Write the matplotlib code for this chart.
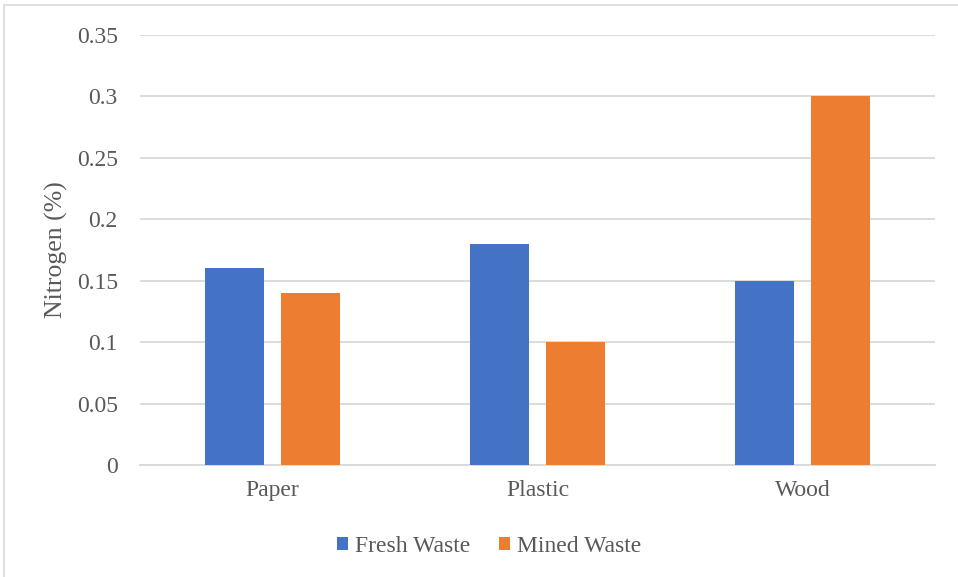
import matplotlib
matplotlib.use("Agg")
import matplotlib.pyplot as plt
from matplotlib.patches import Rectangle
import numpy as np

categories = ["Paper", "Plastic", "Wood"]
fresh_waste = [0.16, 0.18, 0.15]
mined_waste = [0.14, 0.10, 0.30]
y_ticks = [0, 0.05, 0.1, 0.15, 0.2, 0.25, 0.3, 0.35]
y_tick_labels = ["0", "0.05", "0.1", "0.15", "0.2", "0.25", "0.3", "0.35"]

plt.rcParams["font.family"] = ["Liberation Serif", "DejaVu Serif"]
text_color = "#595959"
grid_color = "#d9d9d9"
blue = "#4472c4"
orange = "#ed7d31"
fs = 17

fig = plt.figure(figsize=(9.58, 5.77), dpi=100)
ax = fig.add_axes([140 / 958, 1 - 465 / 577, 795 / 958, 430 / 577])

x = np.arange(len(categories))
width = 0.223
offset = 0.142
ax.bar(x - offset, fresh_waste, width, color=blue, label="Fresh Waste", zorder=3)
ax.bar(x + offset, mined_waste, width, color=orange, label="Mined Waste", zorder=3)

ax.set_xlim(-0.5, 2.5)
ax.set_ylim(0, 0.35)
ax.set_yticks(y_ticks)
ax.set_yticklabels(y_tick_labels)
ax.set_xticks(x)
ax.set_xticklabels(categories)
ax.tick_params(axis="both", length=0, labelsize=fs, colors=text_color)
ax.tick_params(axis="y", pad=16)
ax.tick_params(axis="x", pad=11)
ax.yaxis.grid(True, color=grid_color, linewidth=1.3, zorder=0)
for side in ["top", "right", "left"]:
    ax.spines[side].set_visible(False)
ax.spines["bottom"].set_color(grid_color)
ax.spines["bottom"].set_linewidth(1.3)

ax.set_ylabel("Nitrogen (%)", fontsize=18.5, color=text_color)
ax.yaxis.set_label_coords((68 - 140) / 795, 0.5)

fig.legend(loc="center", bbox_to_anchor=(489 / 958, 1 - 546 / 577), ncol=2,
           frameon=False, fontsize=fs, labelcolor=text_color,
           handlelength=0.47, handleheight=0.47, handletextpad=0.3,
           columnspacing=1.2)

# chart frame
fig.patches.append(Rectangle((4 / 958, -0.05), 1.2, 1 - 5 / 577 + 0.05,
                             transform=fig.transFigure, fill=False,
                             edgecolor="#d9d9d9", linewidth=1.2))

fig.savefig("out.png", dpi=100)
